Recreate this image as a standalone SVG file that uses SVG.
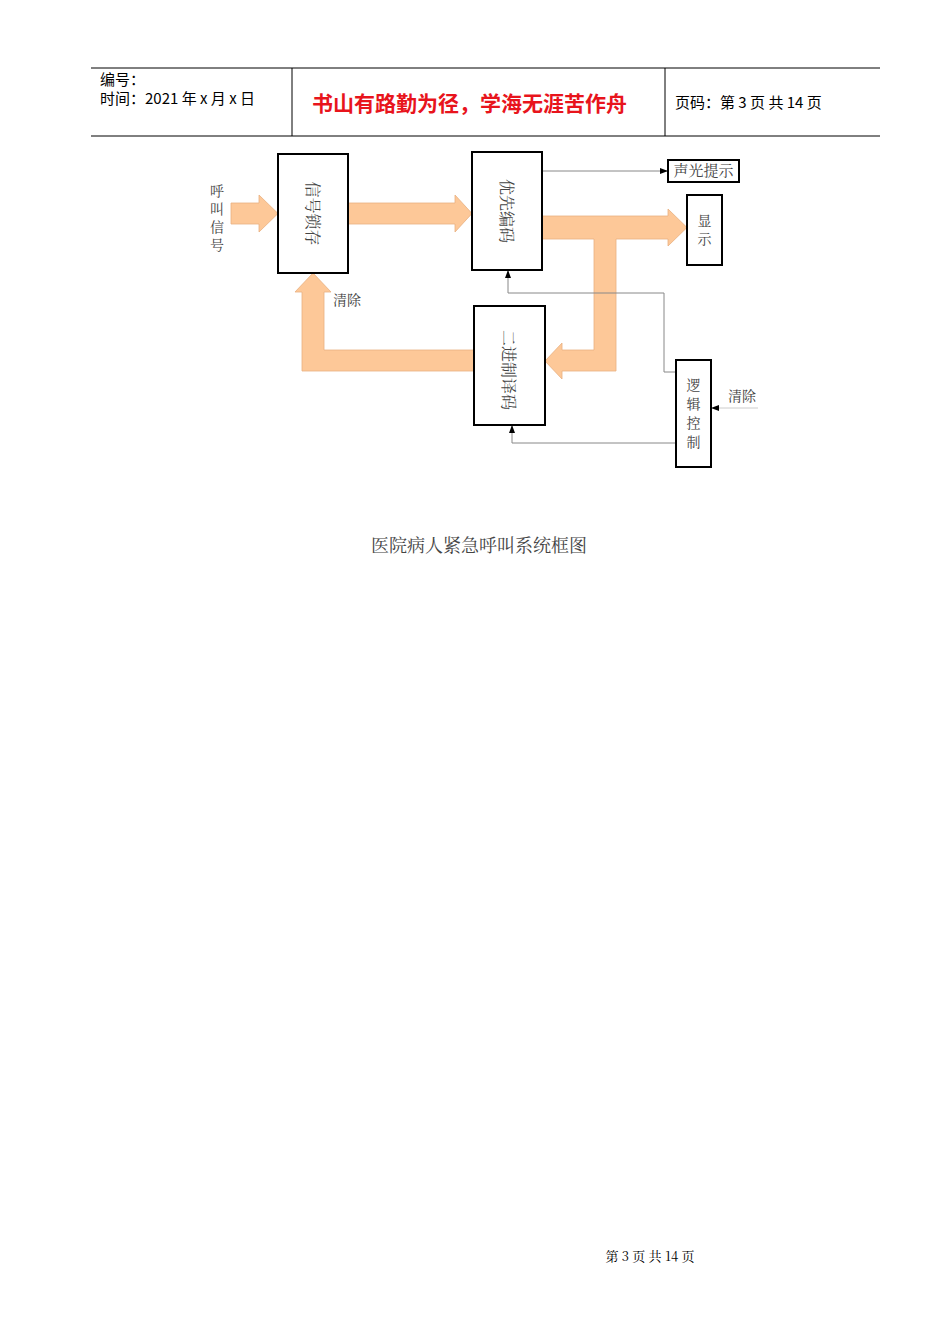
<svg xmlns="http://www.w3.org/2000/svg" width="950" height="1344" viewBox="0 0 950 1344">
<defs>
<marker id="ah" markerWidth="8" markerHeight="6" refX="8" refY="3" orient="auto" markerUnits="userSpaceOnUse"><path d="M0,0L8,3L0,6z" fill="#000"/></marker>
</defs>
<style>
.b{fill:#fff;stroke:#000;stroke-width:2}
.fa{fill:#fdc898;stroke:#e8b080;stroke-width:0.8}
.ln{fill:none;stroke:#888;stroke-width:1}
.t{font-family:"Noto Sans CJK SC",sans-serif;fill:#000}
.s{font-family:"Noto Serif CJK SC","Noto Sans CJK SC",serif;fill:#444;font-size:14px}
.r{font-size:16px}
</style>
<rect width="950" height="1344" fill="#fff"/>
<g id="header">
<line x1="91" y1="68" x2="880" y2="68" stroke="#000"/>
<line x1="91" y1="136" x2="880" y2="136" stroke="#000"/>
<line x1="292" y1="68" x2="292" y2="136" stroke="#000"/>
<line x1="665" y1="68" x2="665" y2="136" stroke="#000"/>
<text class="t" x="100" y="85" font-size="15">编号：</text>
<text class="t" x="100" y="104" font-size="15">时间：2021 年 x 月 x 日</text>
<text class="t" x="312" y="111" font-size="21" font-weight="bold" style="fill:#e8141c">书山有路勤为径，学海无涯苦作舟</text>
<text class="t" x="675" y="108" font-size="15">页码：第 3 页  共 14 页</text>
</g>
<g id="connectors">
<path class="fa" d="M231,203H259V195L278,213.5L259,232V224H231Z"/>
<path class="fa" d="M348,203H455V195L472,213.5L455,232V224H348Z"/>
<path class="fa" d="M542,216H668V209L687,227.5L668,246V239H616V371H562V379L545,361L562,343V350H594V239H542Z"/>
<path class="fa" d="M474,350H324V292H331L313,273L295,292H302V371H474Z"/>
<line class="ln" x1="542" y1="171" x2="668" y2="171" marker-end="url(#ah)"/>
<polyline class="ln" points="676,372 664,372 664,293 508,293 508,270" marker-end="url(#ah)"/>
<polyline class="ln" points="676,443 512,443 512,425" marker-end="url(#ah)"/>
<line x1="758" y1="408" x2="711" y2="408" stroke="#ccc" stroke-width="1" marker-end="url(#ah)"/>
<text class="s" x="333" y="305">清除</text>
<text class="s" x="728" y="401">清除</text>
<text class="s" x="210" y="196">呼</text>
<text class="s" x="210" y="214">叫</text>
<text class="s" x="210" y="232">信</text>
<text class="s" x="210" y="250">号</text>
</g>
<g id="n1"><rect class="b" x="278" y="154" width="70" height="119"/><text class="s r" transform="translate(307,213.5) rotate(90)" text-anchor="middle">信号锁存</text></g>
<g id="n2"><rect class="b" x="472" y="152" width="70" height="118"/><text class="s r" transform="translate(501,211) rotate(90)" text-anchor="middle">优先编码</text></g>
<g id="n3"><rect class="b" x="474" y="306" width="71" height="119"/><text class="s r" transform="translate(503,370) rotate(90)" text-anchor="middle">二进制译码</text></g>
<g id="n4"><rect class="b" x="668" y="160" width="71" height="22"/><text class="s" x="703.5" y="176" text-anchor="middle" style="font-size:15px">声光提示</text></g>
<g id="n5"><rect class="b" x="687" y="195" width="35" height="70"/><text class="s" x="704.5" y="226" text-anchor="middle">显</text><text class="s" x="704.5" y="244" text-anchor="middle">示</text></g>
<g id="n6"><rect class="b" x="676" y="360" width="35" height="107"/><text class="s" x="693.5" y="390" text-anchor="middle">逻</text><text class="s" x="693.5" y="409" text-anchor="middle">辑</text><text class="s" x="693.5" y="428" text-anchor="middle">控</text><text class="s" x="693.5" y="447" text-anchor="middle">制</text></g>
<text class="s" x="479" y="552" text-anchor="middle" style="font-size:18px">医院病人紧急呼叫系统框图</text>
<text class="s" x="650" y="1261" text-anchor="middle" style="fill:#000;font-size:13px">第 3 页 共 14 页</text>
</svg>
